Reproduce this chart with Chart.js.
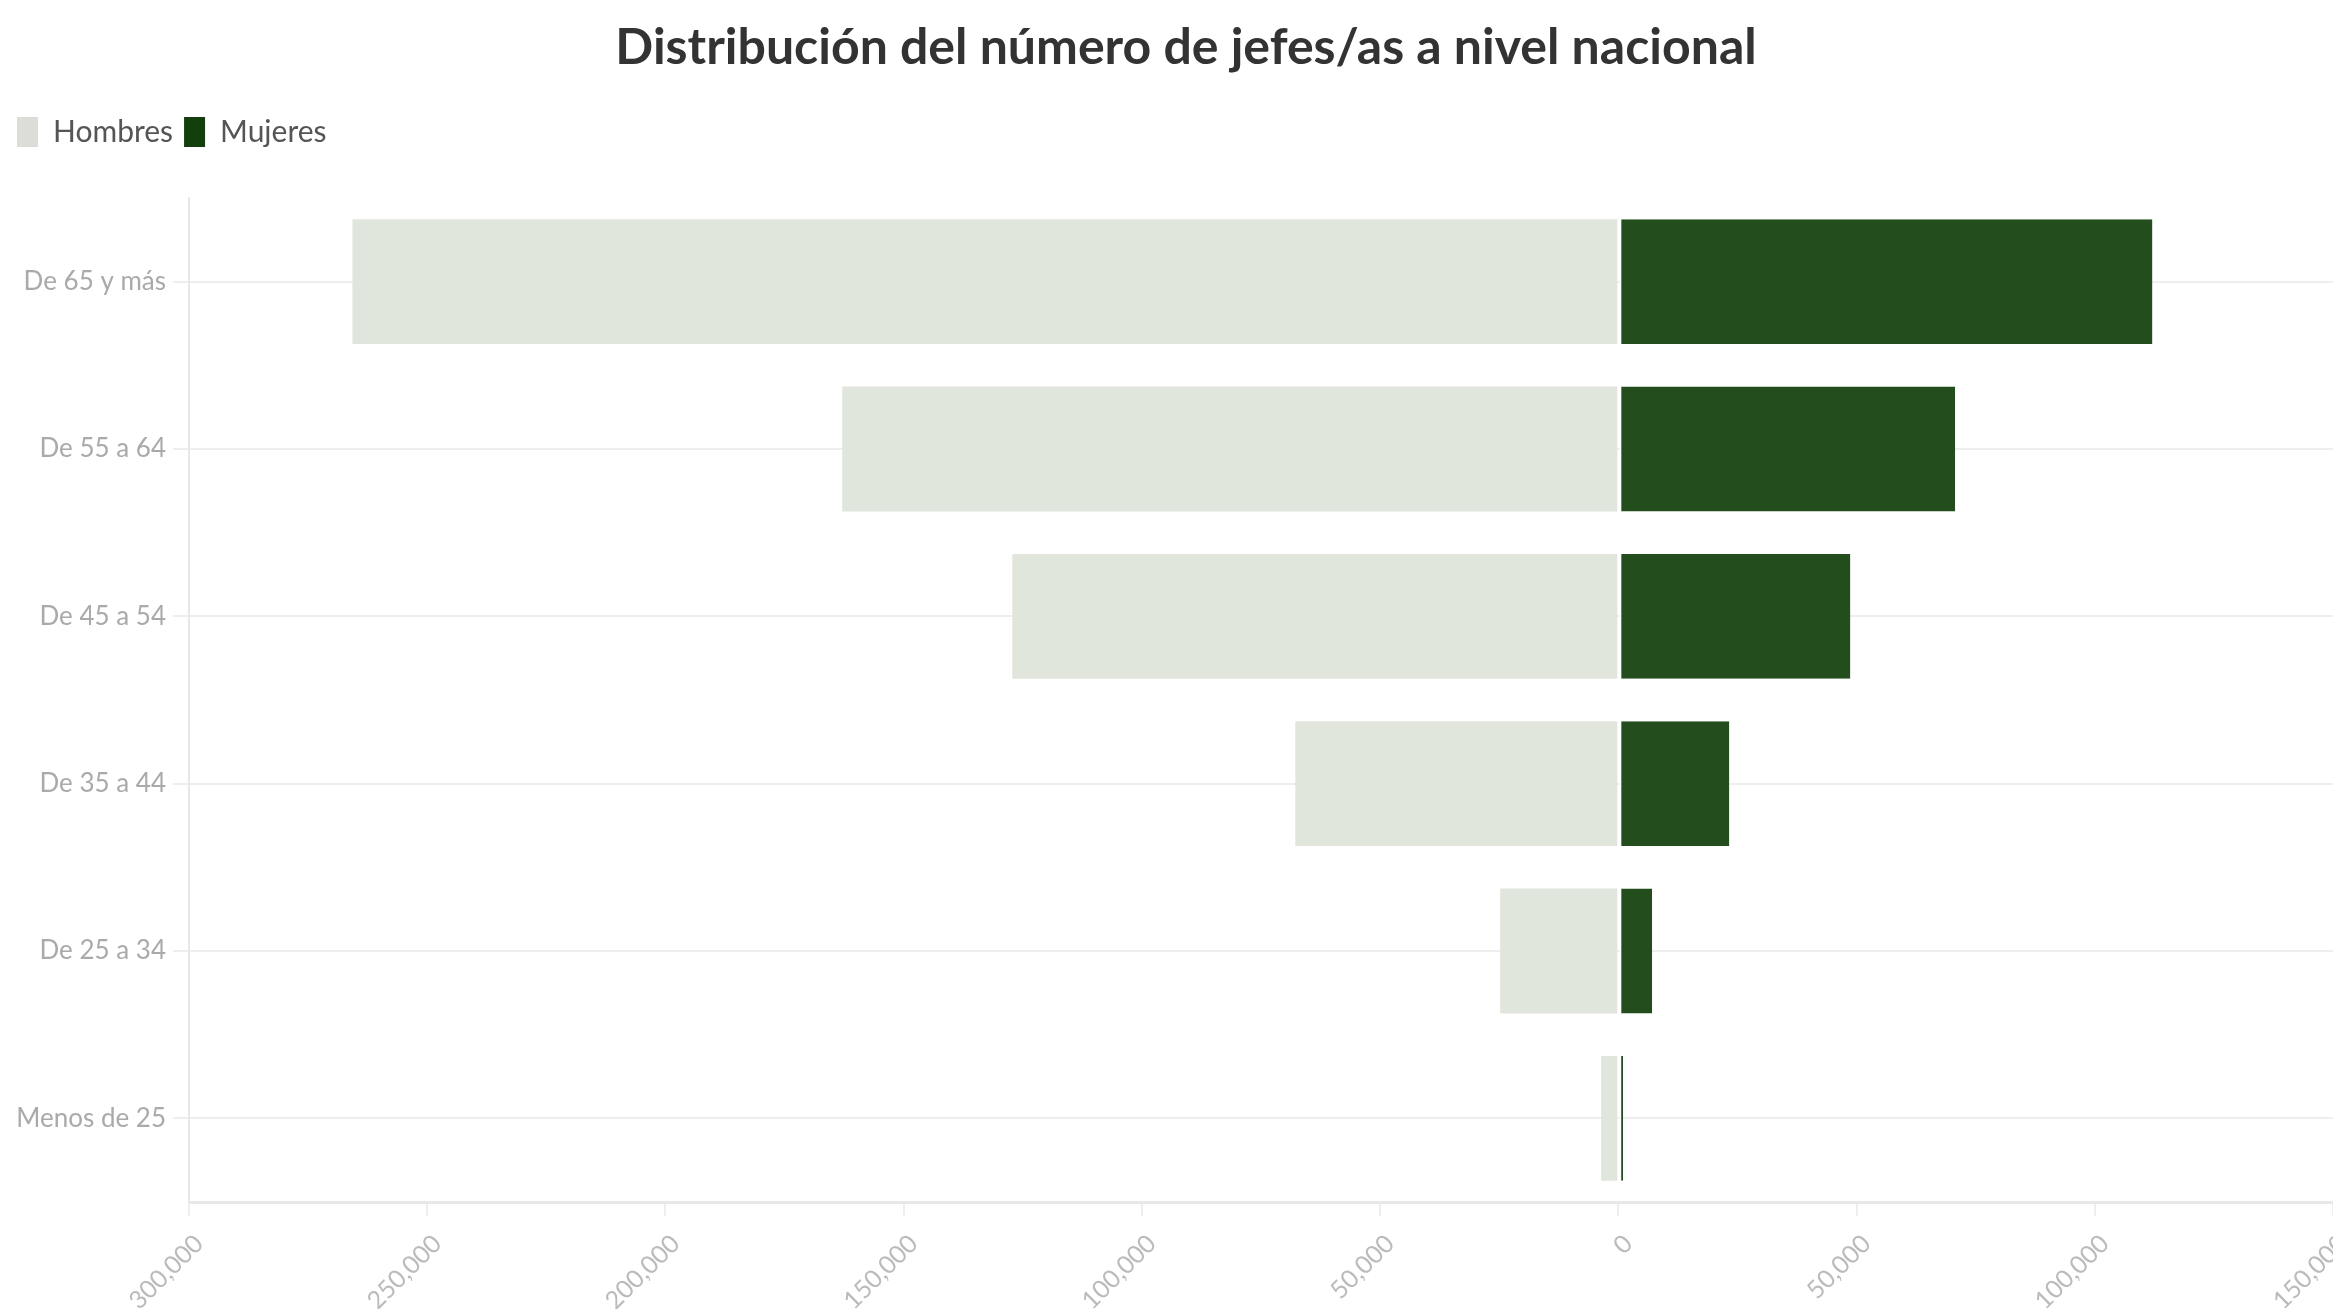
<!DOCTYPE html>
<html>
<head>
<meta charset="utf-8">
<script src="https://cdn.jsdelivr.net/npm/chart.js@4.4.1/dist/chart.umd.min.js"></script>
<style>
    html, body { margin: 0; padding: 0; background: #fff; overflow: hidden; }
    #wrap { width: 2366px; height: 1309px; position: relative; }
</style>
</head>
<body>
<div id="wrap"><canvas id="myChart"></canvas></div>
<script>
// grupos de edad (de arriba hacia abajo)
const categories = ["De 65 y más", "De 55 a 64", "De 45 a 54", "De 35 a 44", "De 25 a 34", "Menos de 25"];
// número de jefes por sexo
const hombres = [265700, 162900, 127200, 67800, 24800, 3600];
const mujeres = [112100, 70700, 48700, 23300, 7100, 1000];
// eje x
const xMin = -300000;
const xMax = 150000;
const xStep = 50000;

const ctx = document.getElementById("myChart");

let chartConfig = {
    type: "bar",
    data: {
        labels: categories,
        datasets: [
            {
                label: "Hombres",
                data: hombres.map(v => -v), // a la izquierda del cero
                backgroundColor: "#e1e6dc",
                borderWidth: 0
            },
            {
                label: "Mujeres",
                data: mujeres,
                backgroundColor: "#234d1c",
                borderColor: "#ffffff",
                borderWidth: { left: 2, right: 0, top: 0, bottom: 0 },
                borderSkipped: false
            }
        ]
    },
    options: {
        indexAxis: "y",
        responsive: true,
        maintainAspectRatio: false,
        animation: false,
        layout: {
            padding: { left: 6, right: 0, top: 0, bottom: 0 }
        },
        datasets: {
            bar: {
                barPercentage: 1,
                categoryPercentage: 0.746
            }
        },
        plugins: {
            title: {
                display: true,
                text: "Distribución del número de jefes/as a nivel nacional",
                color: "#333333",
                font: { family: "Lato", size: 50, weight: "bold" },
                padding: { top: 18, bottom: 28 }
            },
            legend: {
                display: true,
                position: "top",
                align: "start",
                labels: {
                    color: "#555555",
                    font: { family: "Lato", size: 30 },
                    boxWidth: 21,
                    boxHeight: 30,
                    useBorderRadius: true,
                    borderRadius: 4,
                    padding: 11,
                    generateLabels: function (chart) {
                        // colores de la leyenda un poco más oscuros que las barras
                        const swatch = ["#dcdcd8", "#123f0c"];
                        return chart.data.datasets.map((ds, i) => ({
                            text: ds.label,
                            fillStyle: swatch[i],
                            strokeStyle: swatch[i],
                            lineWidth: 0,
                            fontColor: "#555555",
                            hidden: false,
                            datasetIndex: i
                        }));
                    }
                }
            },
            tooltip: { enabled: false }
        },
        scales: {
            x: {
                stacked: true,
                min: xMin,
                max: xMax,
                ticks: {
                    stepSize: xStep,
                    color: "#bbbbbb",
                    font: { family: "Lato", size: 25 },
                    minRotation: 45,
                    maxRotation: 45,
                    padding: 13,
                    labelOffset: 10,
                    callback: function (value) {
                        return Math.abs(value).toLocaleString("en-US");
                    }
                },
                grid: {
                    drawOnChartArea: false,
                    drawTicks: true,
                    tickLength: 14,
                    color: "#eeeeee",
                    lineWidth: 2
                },
                border: { color: "#e8e8e8", width: 3 },
                afterFit: function (scale) {
                    scale.height = 107;
                    scale.paddingLeft = 0;
                    scale.paddingRight = 33; // el último rótulo queda cortado
                }
            },
            // eje vacío: solo deja espacio entre la leyenda y el gráfico
            gap: {
                type: "linear",
                position: "top",
                grid: { display: false },
                border: { display: false },
                ticks: { display: false },
                afterFit: function (scale) {
                    scale.height = 41;
                    scale.paddingLeft = 0;
                    scale.paddingRight = 0;
                }
            },
            y: {
                stacked: true,
                ticks: {
                    color: "#aaaaaa",
                    font: { family: "Lato", size: 26 },
                    padding: 7
                },
                grid: {
                    offset: false, // línea en el centro de cada grupo
                    color: "#eeeeee",
                    lineWidth: 2,
                    tickLength: 16
                },
                border: { color: "#e8e8e8", width: 2 },
                afterFit: function (scale) {
                    scale.width = 183;
                }
            }
        }
    }
};

new Chart(ctx, chartConfig);
</script>
</body>
</html>
